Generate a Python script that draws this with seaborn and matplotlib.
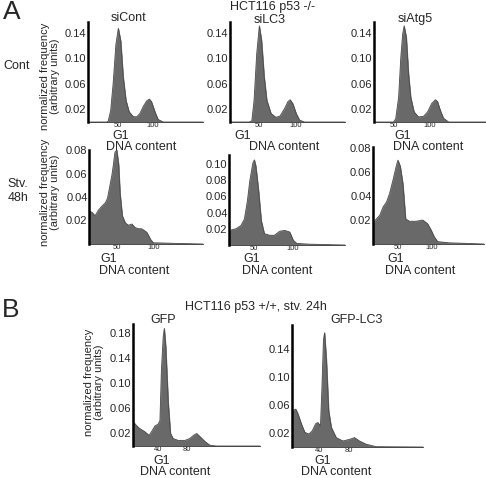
import numpy as np
import pandas as pd
import matplotlib
matplotlib.use("Agg")
import matplotlib.pyplot as plt
import seaborn as sns

# --- valores (conteudo de DNA vs frequencia normalizada) ---
# Painel A, linha "Cont"
cont_sicont_x = [7, 34, 36, 39.5, 43, 47, 50.5, 54, 57.5, 61.5, 66, 72, 77, 81.5, 86, 91, 95, 98, 103, 107.5, 115, 172]
cont_sicont_y = [0, 0, 0.0015, 0.018, 0.060, 0.122, 0.147, 0.127, 0.071, 0.034, 0.016, 0.0083, 0.0083, 0.0135,
                 0.024, 0.033, 0.036, 0.032, 0.016, 0.004, 0, 0]

cont_silc3_x = [12, 37.5, 41, 44, 47.5, 51, 54, 57.5, 61, 66.5, 73, 78.5, 84.5, 89, 92, 95.5, 100, 104.5, 111, 165]
cont_silc3_y = [0, 0, 0.002, 0.034, 0.107, 0.151, 0.128, 0.071, 0.034, 0.0135, 0.0073, 0.0094, 0.021, 0.032,
                0.035, 0.029, 0.0135, 0.003, 0, 0]

cont_siatg5_x = [23.5, 50, 53, 57, 60, 62.5, 64.5, 67.5, 70.5, 73.5, 78, 84, 91, 96.5, 102, 107, 110, 113.5, 118, 125, 176]
cont_siatg5_y = [0, 0, 0.005, 0.039, 0.102, 0.138, 0.151, 0.133, 0.076, 0.039, 0.016, 0.008, 0.009, 0.016,
                 0.029, 0.035, 0.032, 0.019, 0.006, 0, 0]

# Painel A, linha "Stv. 48h"
stv_sicont_x = [12, 16, 20, 25, 29, 34, 37, 40, 43, 45, 47, 49.5, 52, 54, 57, 61, 65, 70, 74, 79, 83, 90, 95, 99,
                104, 130, 166]
stv_sicont_y = [0.028, 0.027, 0.024, 0.029, 0.032, 0.035, 0.039, 0.049, 0.059, 0.068, 0.078, 0.080, 0.068, 0.043,
                0.024, 0.018, 0.016, 0.017, 0.014, 0.013, 0.013, 0.010, 0.004, 0.001, 0.001, 0.0005, 0]

stv_silc3_x = [17, 26, 32.5, 37, 41, 44, 48, 50, 52, 55.5, 59, 63, 70, 76, 83, 89.5, 96, 100.5, 105, 122, 168]
stv_silc3_y = [0.018, 0.020, 0.024, 0.032, 0.055, 0.079, 0.101, 0.105, 0.097, 0.067, 0.030, 0.014, 0.012, 0.012,
               0.017, 0.018, 0.016, 0.006, 0.002, 0.001, 0]

stv_siatg5_x = [13, 16.5, 23, 28, 33, 37.5, 42.5, 47.5, 50, 53.5, 57.5, 61.5, 67, 77, 87, 94, 99, 104, 109, 126, 178]
stv_siatg5_y = [0.017, 0.020, 0.024, 0.031, 0.035, 0.042, 0.053, 0.065, 0.070, 0.065, 0.050, 0.021, 0.019, 0.019,
                0.020, 0.017, 0.012, 0.006, 0.002, 0.001, 0]

# Painel B
gfp_x = [5.5, 10, 14.5, 21.5, 27.5, 31, 35.5, 40, 42.5, 44.5, 47, 48.5, 50.5, 54, 57, 60.5, 67.5, 77, 83.5, 88.5,
         93, 97.5, 104.5, 111, 120, 180]
gfp_y = [0.039, 0.033, 0.028, 0.023, 0.017, 0.023, 0.032, 0.035, 0.041, 0.121, 0.175, 0.188, 0.159, 0.068, 0.020,
         0.012, 0.009, 0.009, 0.012, 0.017, 0.020, 0.015, 0.007, 0.0013, 0, 0]

gfplc3_x = [4, 9, 12, 16.5, 21, 26.5, 31, 35.5, 38.5, 42, 44, 46, 47.5, 50, 53, 56.5, 63, 72, 81, 87.5, 94, 103,
            116.5, 179]
gfplc3_y = [0.052, 0.054, 0.047, 0.033, 0.021, 0.0185, 0.023, 0.033, 0.035, 0.030, 0.086, 0.153, 0.163, 0.124,
            0.052, 0.028, 0.0134, 0.0086, 0.011, 0.0134, 0.0086, 0.004, 0.0005, 0]

ticks_a_x = [50, 100]
ticks_b_x = [40, 80]
ticks_cont_y = [0.02, 0.06, 0.10, 0.14]
ticks_stv1_y = [0.02, 0.04, 0.06, 0.08]
ticks_stv2_y = [0.02, 0.04, 0.06, 0.08, 0.10]
ticks_gfp_y = [0.02, 0.06, 0.10, 0.14, 0.18]
ticks_gfplc3_y = [0.02, 0.06, 0.10, 0.14]

sns.set_style("white")
plt.rcParams['font.family'] = ['Liberation Sans', 'DejaVu Sans']

W, H = 486, 478
fig = plt.figure(figsize=(W / 100, H / 100), dpi=100)


def eixo(esq, topo, dir_, base):
    # retangulo em pixels (origem no canto superior esquerdo)
    return fig.add_axes([esq / W, 1 - base / H, (dir_ - esq) / W, (base - topo) / H])


def histograma(ax, xs, ys, xticks, yticks, ymax):
    df = pd.DataFrame({'dna': xs, 'freq': ys})
    ax.fill_between(df['dna'], 0, df['freq'], facecolor='#696969', edgecolor='#696969', lw=0.4, clip_on=False)
    sns.lineplot(data=df, x='dna', y='freq', ax=ax, color='#4a4a4a', lw=0.6, clip_on=False)
    ax.set_xlim(xs[0], xs[-1])
    ax.set_ylim(0, ymax)
    ax.set_xticks(xticks)
    ax.set_xticklabels([str(t) for t in xticks], fontsize=5.5)
    ax.set_yticks(yticks)
    ax.set_yticklabels([f"{t:.2f}" for t in yticks], fontsize=8)
    ax.tick_params(length=0, pad=1)
    ax.tick_params(axis='x', pad=0.3)
    ax.set_xlabel('')
    ax.set_ylabel('')
    ax.patch.set_alpha(0)
    for lado in ['top', 'right']:
        ax.spines[lado].set_visible(False)
    ax.spines['left'].set_linewidth(1.8)
    ax.spines['left'].set_color('black')
    ax.spines['left'].set_zorder(5)
    ax.spines['bottom'].set_linewidth(0.6)
    ax.spines['bottom'].set_color('#444444')


paineis = [
    ((88, 22, 203, 122), cont_sicont_x, cont_sicont_y, ticks_a_x, ticks_cont_y, 0.157),
    ((230, 22, 345, 122), cont_silc3_x, cont_silc3_y, ticks_a_x, ticks_cont_y, 0.157),
    ((374, 22, 486, 122), cont_siatg5_x, cont_siatg5_y, ticks_a_x, ticks_cont_y, 0.157),
    ((89, 150, 203, 244), stv_sicont_x, stv_sicont_y, ticks_a_x, ticks_stv1_y, 0.080),
    ((229, 155, 345, 245), stv_silc3_x, stv_silc3_y, ticks_a_x, ticks_stv2_y, 0.111),
    ((373, 147, 484, 244), stv_siatg5_x, stv_siatg5_y, ticks_a_x, ticks_stv1_y, 0.081),
    ((133, 324, 260, 446), gfp_x, gfp_y, ticks_b_x, ticks_gfp_y, 0.195),
    ((292, 325, 423, 447), gfplc3_x, gfplc3_y, ticks_b_x, ticks_gfplc3_y, 0.174),
]
for rect, xs, ys, xt, yt, ymax in paineis:
    histograma(eixo(*rect), xs, ys, xt, yt, ymax)


def texto(x, y, s, **kw):
    kw.setdefault('fontsize', 9)
    kw.setdefault('ha', 'center')
    kw.setdefault('va', 'center')
    fig.text(x / W, 1 - y / H, s, **kw)


texto(3, 12, 'A', fontsize=19, ha='left')
texto(2, 310, 'B', fontsize=19, ha='left')

texto(272, 7, 'HCT116 p53 -/-')
texto(129, 18, 'siCont')
texto(270, 20, 'siLC3')
texto(415, 19, 'siAtg5')
texto(17, 66, 'Cont')
texto(18, 191, 'Stv.\n48h', linespacing=1.15)

ylab = 'normalized frequency\n(arbitrary units)'
texto(50, 76, ylab, rotation=90, linespacing=1.0, fontsize=8)
texto(50, 192, ylab, rotation=90, linespacing=1.0, fontsize=8)
texto(94, 382, ylab, rotation=90, linespacing=1.0, fontsize=8)

# rotulos G1 / DNA content
for gx, gy, dx, dy in [(121, 136, 141, 147), (243, 136, 284, 147), (403, 136, 428, 147),
                       (109, 259, 134, 271), (252, 259, 277, 271), (396, 259, 420, 271),
                       (162, 461, 175, 472), (323, 461, 336, 472)]:
    texto(gx, gy, 'G1')
    texto(dx, dy, 'DNA content')

texto(256, 307, 'HCT116 p53 +/+, stv. 24h')
texto(163, 320, 'GFP')
texto(357, 320, 'GFP-LC3')

fig.savefig('out.png', dpi=100)
